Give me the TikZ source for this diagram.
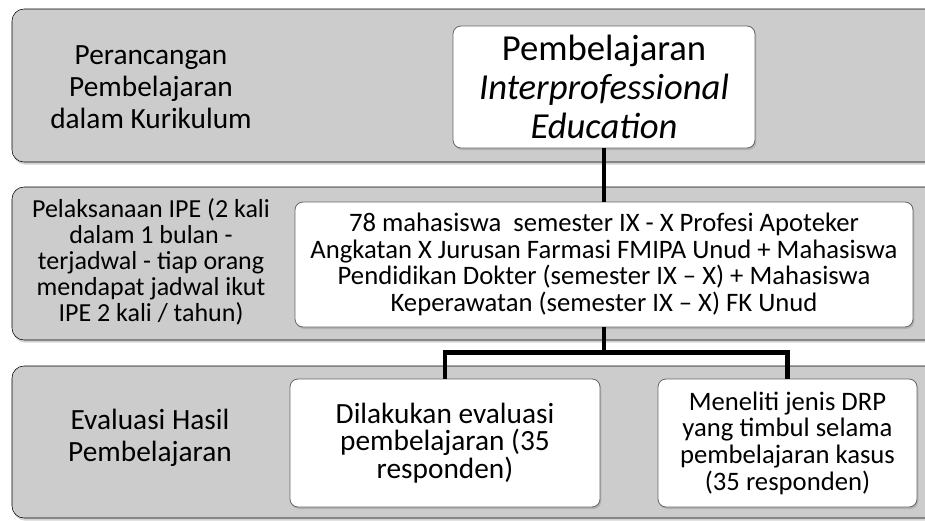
\documentclass[tikz,border=0pt]{standalone}
\usepackage{fontspec}
\setmainfont{Carlito}
\usepackage{xcolor}
\usepackage{tikz}
\usetikzlibrary{shadows}
\newcommand{\txtbig}{\fontsize{27.5}{29}\selectfont}
\newcommand{\txtmid}{\fontsize{22}{24}\selectfont}
\newcommand{\txtsmall}{\fontsize{20}{20}\selectfont}

\begin{document}
\begin{tikzpicture}[x=0.75pt, y=-0.75pt, font=\txtsmall,
      band/.style={fill=black!20, rounded corners=9pt,
        drop shadow={shadow xshift=1pt, shadow yshift=-2pt, opacity=0.35}},
      whitebox/.style={draw=black!60, line width=0.6pt, fill=white,
        rounded corners=6pt, align=center, inner sep=2pt,
        drop shadow={shadow xshift=1pt, shadow yshift=-1.5pt, opacity=0.35}},
      rowlabel/.style={align=center, inner sep=0pt},
      link/.style={line width=3.5pt, line join=miter}]
    \useasboundingbox (0,0) rectangle (925,521);
    \begin{scope}
      \clip (0,0) rectangle (925,521);
      \foreach \top/\bot in { 9/162, 187/340, 366/518 }{
        \draw[band] (12,\top) rectangle (940,\bot);
      }
    \end{scope}
    % labels of the three rows
    \node[rowlabel, font=\txtmid] (lab1) at (151,87)
      {Perancangan\\Pembelajaran\\dalam Kurikulum};
    \node[rowlabel, font=\fontsize{19.5}{19.5}\selectfont] (lab2) at (151,262)
      {Pelaksanaan IPE (2 kali\\dalam 1 bulan -\\terjadwal - tiap orang\\mendapat jadwal ikut\\IPE 2 kali / tahun)};
    \node[rowlabel, font=\txtmid] (lab3) at (150,438)
      {Evaluasi Hasil\\Pembelajaran};
    % boxes
    \node[whitebox, font=\txtbig, minimum width=226.5pt, minimum height=91.5pt]
      (plan) at (604,87) {Pembelajaran\\\textit{Interprofessional}\\\textit{Education}};
    \node[whitebox, minimum width=463.5pt, minimum height=93.75pt]
      (peserta) at (604,264.5)
      {78 mahasiswa~ semester IX - X Profesi Apoteker\\
       Angkatan X Jurusan Farmasi FMIPA Unud + Mahasiswa\\
       Pendidikan Dokter (semester IX -- X) + Mahasiswa\\
       Keperawatan (semester IX -- X) FK Unud};
    \node[whitebox, font=\fontsize{22}{20.6}\selectfont,
      minimum width=232.5pt, minimum height=96pt]
      (evalA) at (445,443) {Dilakukan evaluasi\\pembelajaran (35\\responden)};
    \node[whitebox, minimum width=194.25pt, minimum height=96pt]
      (evalB) at (787.5,443)
      {Meneliti jenis DRP\\yang timbul selama\\pembelajaran kasus\\(35 responden)};
    % connectors
    \draw[link] (plan.south) -- (peserta.north);
    \draw[link] (peserta.south) -- ++(0,25) coordinate (split);
    \draw[link] (evalA.north) |- (split) -| (evalB.north);
  \end{tikzpicture}
\end{document}
